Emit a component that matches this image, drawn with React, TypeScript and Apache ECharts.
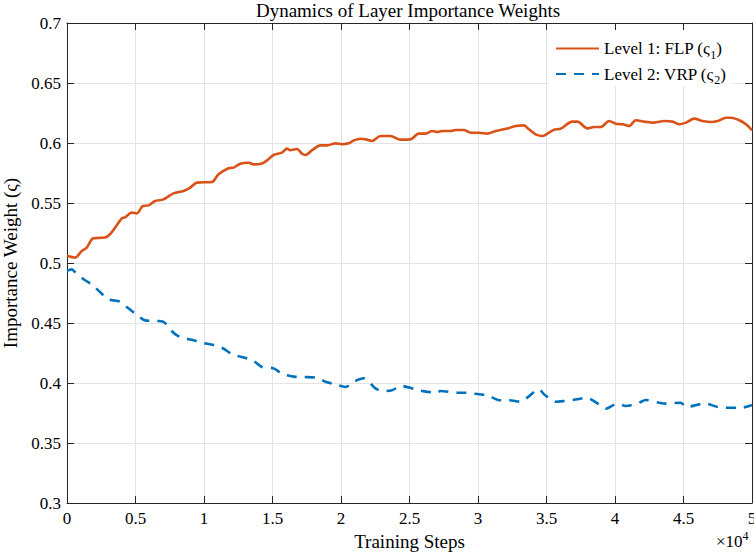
import React, { useEffect, useRef } from "react";
import * as echarts from "echarts";

const flpSteps = [0, 600, 1070, 1440, 1920, 2780, 3140, 3510, 4000, 4240, 4730, 5100, 5530, 5950, 6430, 7040, 7770, 8500, 8990, 9480, 10580, 11060, 11790, 12160, 12650, 13260, 13620, 14230, 14600, 15080, 15690, 16060, 16300, 16790, 17160, 17400, 17890, 18500, 18980, 19590, 20080, 20570, 20940, 21420, 21790, 22270, 22880, 23610, 24340, 25070, 25680, 26170, 26660, 27020, 27390, 28000, 28360, 28970, 29460, 30070, 30680, 31290, 32140, 32750, 33360, 33720, 34210, 34700, 35180, 35550, 36040, 36890, 37260, 37990, 38470, 38960, 39570, 40060, 40550, 41030, 41520, 42130, 42860, 43590, 44200, 44690, 45180, 45780, 46400, 47000, 47490, 48100, 48460, 49070, 49560, 50000];
const flpValues = [0.506, 0.5045, 0.51, 0.5128, 0.5206, 0.5213, 0.524, 0.5294, 0.5372, 0.538, 0.542, 0.5413, 0.5475, 0.548, 0.5517, 0.553, 0.558, 0.56, 0.5628, 0.567, 0.5675, 0.574, 0.579, 0.5795, 0.5828, 0.5836, 0.5822, 0.583, 0.5855, 0.59, 0.592, 0.5953, 0.594, 0.595, 0.591, 0.59, 0.594, 0.598, 0.598, 0.5997, 0.599, 0.5997, 0.6022, 0.6036, 0.603, 0.6017, 0.6058, 0.6058, 0.6028, 0.603, 0.6078, 0.6078, 0.61, 0.6092, 0.61, 0.61, 0.6108, 0.6108, 0.6086, 0.6086, 0.6078, 0.61, 0.612, 0.6142, 0.6147, 0.6114, 0.6072, 0.6058, 0.6086, 0.6111, 0.612, 0.6178, 0.6178, 0.6122, 0.6133, 0.6133, 0.6183, 0.616, 0.6156, 0.6142, 0.619, 0.6178, 0.617, 0.6183, 0.6178, 0.6156, 0.617, 0.6203, 0.6183, 0.6175, 0.6183, 0.621, 0.621, 0.619, 0.6156, 0.6106];

const vrpSteps = [0, 340, 560, 1320, 1800, 2540, 3020, 3870, 4360, 5210, 5700, 6550, 7040, 7770, 8260, 9230, 9850, 10700, 11310, 12160, 12770, 13620, 14230, 15080, 15690, 16540, 17270, 18250, 18860, 19590, 20320, 20930, 21660, 22510, 23120, 23730, 24400, 25440, 25930, 27020, 27260, 28490, 29090, 30070, 30680, 31650, 32260, 33110, 33600, 34450, 34820, 35670, 36280, 37260, 37870, 38840, 39330, 40180, 40790, 41760, 42250, 43220, 43710, 44810, 45180, 46150, 46520, 47490, 48100, 49200, 50000];
const vrpValues = [0.4935, 0.4947, 0.4928, 0.4856, 0.4822, 0.4744, 0.4697, 0.4678, 0.4633, 0.4558, 0.4522, 0.4517, 0.451, 0.4419, 0.4383, 0.4356, 0.4336, 0.4317, 0.4294, 0.4233, 0.4217, 0.4183, 0.4133, 0.4122, 0.4078, 0.4053, 0.405, 0.4044, 0.4011, 0.3989, 0.3967, 0.4011, 0.4039, 0.3956, 0.3933, 0.394, 0.3975, 0.3947, 0.3933, 0.3919, 0.3933, 0.3919, 0.3919, 0.3906, 0.3897, 0.3856, 0.3856, 0.3844, 0.3878, 0.3947, 0.3906, 0.3844, 0.385, 0.3864, 0.3878, 0.3822, 0.3786, 0.3828, 0.3808, 0.3836, 0.3858, 0.3836, 0.3828, 0.3836, 0.38, 0.3822, 0.383, 0.38, 0.3794, 0.3794, 0.3817];

const seriesNames = ["Level 1: FLP", "Level 2: VRP"];
const titleText = "Dynamics of Layer Importance Weights";
const xName = "Training Steps";
const yName = "Importance Weight (ς)";

const FONT = "'Liberation Serif', 'Times New Roman', serif";
const AXIS_COLOR = "#262626";
const GRID_COLOR = "#e3e3e3";

export default function App() {
  const ref = useRef<HTMLDivElement>(null);
  useEffect(() => {
    if (!ref.current) return;
    const chart = echarts.init(ref.current, undefined, { renderer: "svg" });
    const axisCommonX = {
      type: "value",
      min: 0,
      max: 50000,
      interval: 5000,
      axisLine: { show: true, onZero: false, lineStyle: { color: AXIS_COLOR, width: 1 } },
      axisTick: { show: true, inside: true, length: 7, lineStyle: { color: AXIS_COLOR } },
    };
    const axisCommonY = {
      type: "value",
      min: 0.3,
      max: 0.7,
      interval: 0.05,
      axisLine: { show: true, onZero: false, lineStyle: { color: AXIS_COLOR, width: 1 } },
      axisTick: { show: true, inside: true, length: 7, lineStyle: { color: AXIS_COLOR } },
    };
    chart.setOption({
      animation: false,
      backgroundColor: "#ffffff",
      title: {
        text: titleText,
        left: 408,
        top: 1,
        padding: 0,
        textAlign: "center",
        textStyle: { fontFamily: FONT, fontSize: 19, fontWeight: "normal", color: "#000" },
      },
      grid: { left: 67, top: 23, right: 2, bottom: 49, containLabel: false, outerBoundsMode: "none" },
      legend: {
        left: 549,
        top: 30,
        orient: "vertical",
        backgroundColor: "#ffffff",
        borderWidth: 0,
        padding: [10, 7, 0, 6],
        itemWidth: 43,
        itemHeight: 14,
        itemGap: 5,
        itemStyle: { opacity: 0 },
        data: seriesNames,
        formatter: (name: string) =>
          name === seriesNames[0] ? "{a|" + name + " (ς}{s|1}{a|)}" : "{a|" + name + " (ς}{s|2}{a|)}",
        textStyle: {
          fontFamily: FONT,
          color: "#000",
          rich: {
            a: { fontFamily: FONT, fontSize: 17, lineHeight: 24, color: "#000" },
            s: { fontFamily: FONT, fontSize: 12, lineHeight: 12, verticalAlign: "bottom", color: "#000" },
          },
        },
      },
      xAxis: [
        {
          ...axisCommonX,
          position: "bottom",
          name: xName,
          nameLocation: "middle",
          nameGap: 28,
          nameTextStyle: { fontFamily: FONT, fontSize: 19, color: "#000" },
          axisLabel: {
            fontFamily: FONT,
            fontSize: 17,
            color: "#000",
            margin: 7,
            formatter: (v: number) => String(parseFloat((v / 10000).toFixed(2))),
          },
          splitLine: { show: true, lineStyle: { color: GRID_COLOR, width: 1 } },
        },
        {
          ...axisCommonX,
          position: "top",
          axisLabel: { show: false },
          splitLine: { show: false },
        },
      ],
      yAxis: [
        {
          ...axisCommonY,
          position: "left",
          name: yName,
          nameLocation: "middle",
          nameRotate: 90,
          nameGap: 37,
          nameTextStyle: { fontFamily: FONT, fontSize: 19, color: "#000" },
          axisLabel: {
            fontFamily: FONT,
            fontSize: 17,
            color: "#000",
            margin: 6,
            formatter: (v: number) => String(parseFloat(v.toFixed(2))),
          },
          splitLine: { show: true, lineStyle: { color: GRID_COLOR, width: 1 } },
        },
        {
          ...axisCommonY,
          position: "right",
          axisLabel: { show: false },
          splitLine: { show: false },
        },
      ],
      graphic: [
        {
          type: "text",
          left: 716,
          top: 530,
          style: {
            text: "{a|×10}{b|4}",
            rich: {
              a: { fontFamily: FONT, fontSize: 17, lineHeight: 22, color: "#000" },
              b: { fontFamily: FONT, fontSize: 12, lineHeight: 12, verticalAlign: "top", color: "#000" },
            },
          },
        },
      ],
      series: [
        {
          name: seriesNames[0],
          type: "line",
          xAxisIndex: 0,
          yAxisIndex: 0,
          data: flpSteps.map((s, i) => [s, flpValues[i]]),
          showSymbol: false,
          symbol: "none",
          smooth: 0.3,
          lineStyle: { color: "#D95319", width: 2.6 },
          itemStyle: { color: "#D95319" },
          z: 3,
        },
        {
          name: seriesNames[1],
          type: "line",
          xAxisIndex: 0,
          yAxisIndex: 0,
          data: vrpSteps.map((s, i) => [s, vrpValues[i]]),
          showSymbol: false,
          symbol: "none",
          smooth: 0.3,
          lineStyle: { color: "#0072BD", width: 2.6, type: [10, 8] },
          itemStyle: { color: "#0072BD" },
          z: 3,
        },
      ],
    });
    return () => chart.dispose();
  }, []);
  return (
    <div
      ref={ref}
      style={{ position: "fixed", left: 0, top: 0, width: 754, height: 552, background: "#fff" }}
    />
  );
}
